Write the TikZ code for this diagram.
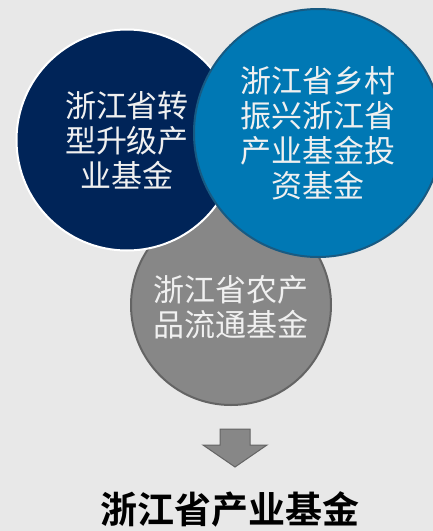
\documentclass[tikz,border=0pt]{standalone}
\usepackage{fontspec}
\newfontfamily\cjk{Noto Sans CJK SC}[BoldFont={Noto Sans CJK SC Bold}]
\definecolor{bggray}{RGB}{232,232,232}
\definecolor{navy}{RGB}{0,36,88}
\definecolor{fundblue}{RGB}{0,120,180}
\definecolor{blueedge}{RGB}{24,90,130}
\definecolor{fundgray}{RGB}{135,135,135}
\definecolor{grayedge}{RGB}{100,100,100}
\tikzset{
  fund/.style={circle, inner sep=0pt, text=white!94!black, align=center,
    font=\cjk\fontsize{31}{35}\selectfont, line width=2pt}
}

\begin{document}
\begin{tikzpicture}[x=1pt,y=-1pt]
	\useasboundingbox (0,0) rectangle (433,531);
	\clip (0,0) rectangle (433,531);
	\fill[bggray] (0,0) rectangle (433,531);
	\node[fund, fill=fundgray, draw=grayedge, minimum size=200pt] (nongchan) at (231,305) {\\[-4pt]浙江省农产\\品流通基金};
	\node[fund, fill=navy, draw=white, minimum size=221pt] (zhuanxing) at (127,140) {浙江省转\\型升级产\\业基金};
	\node[fund, fill=fundblue, draw=blueedge, minimum size=248pt] (xiangcun) at (318,133) {\\[-8pt]浙江省乡村\\振兴浙江省\\产业基金投\\资基金};
	\draw[grayedge, fill=fundgray, line width=1pt] (220,429) -- (250,429) -- (250,445) -- (267,445) -- (235,467) -- (203,445) -- (220,445) -- cycle;
	\node[font=\cjk\bfseries\fontsize{37}{40}\selectfont] (chanye) at (230,509) {浙江省产业基金};
\end{tikzpicture}
\end{document}
